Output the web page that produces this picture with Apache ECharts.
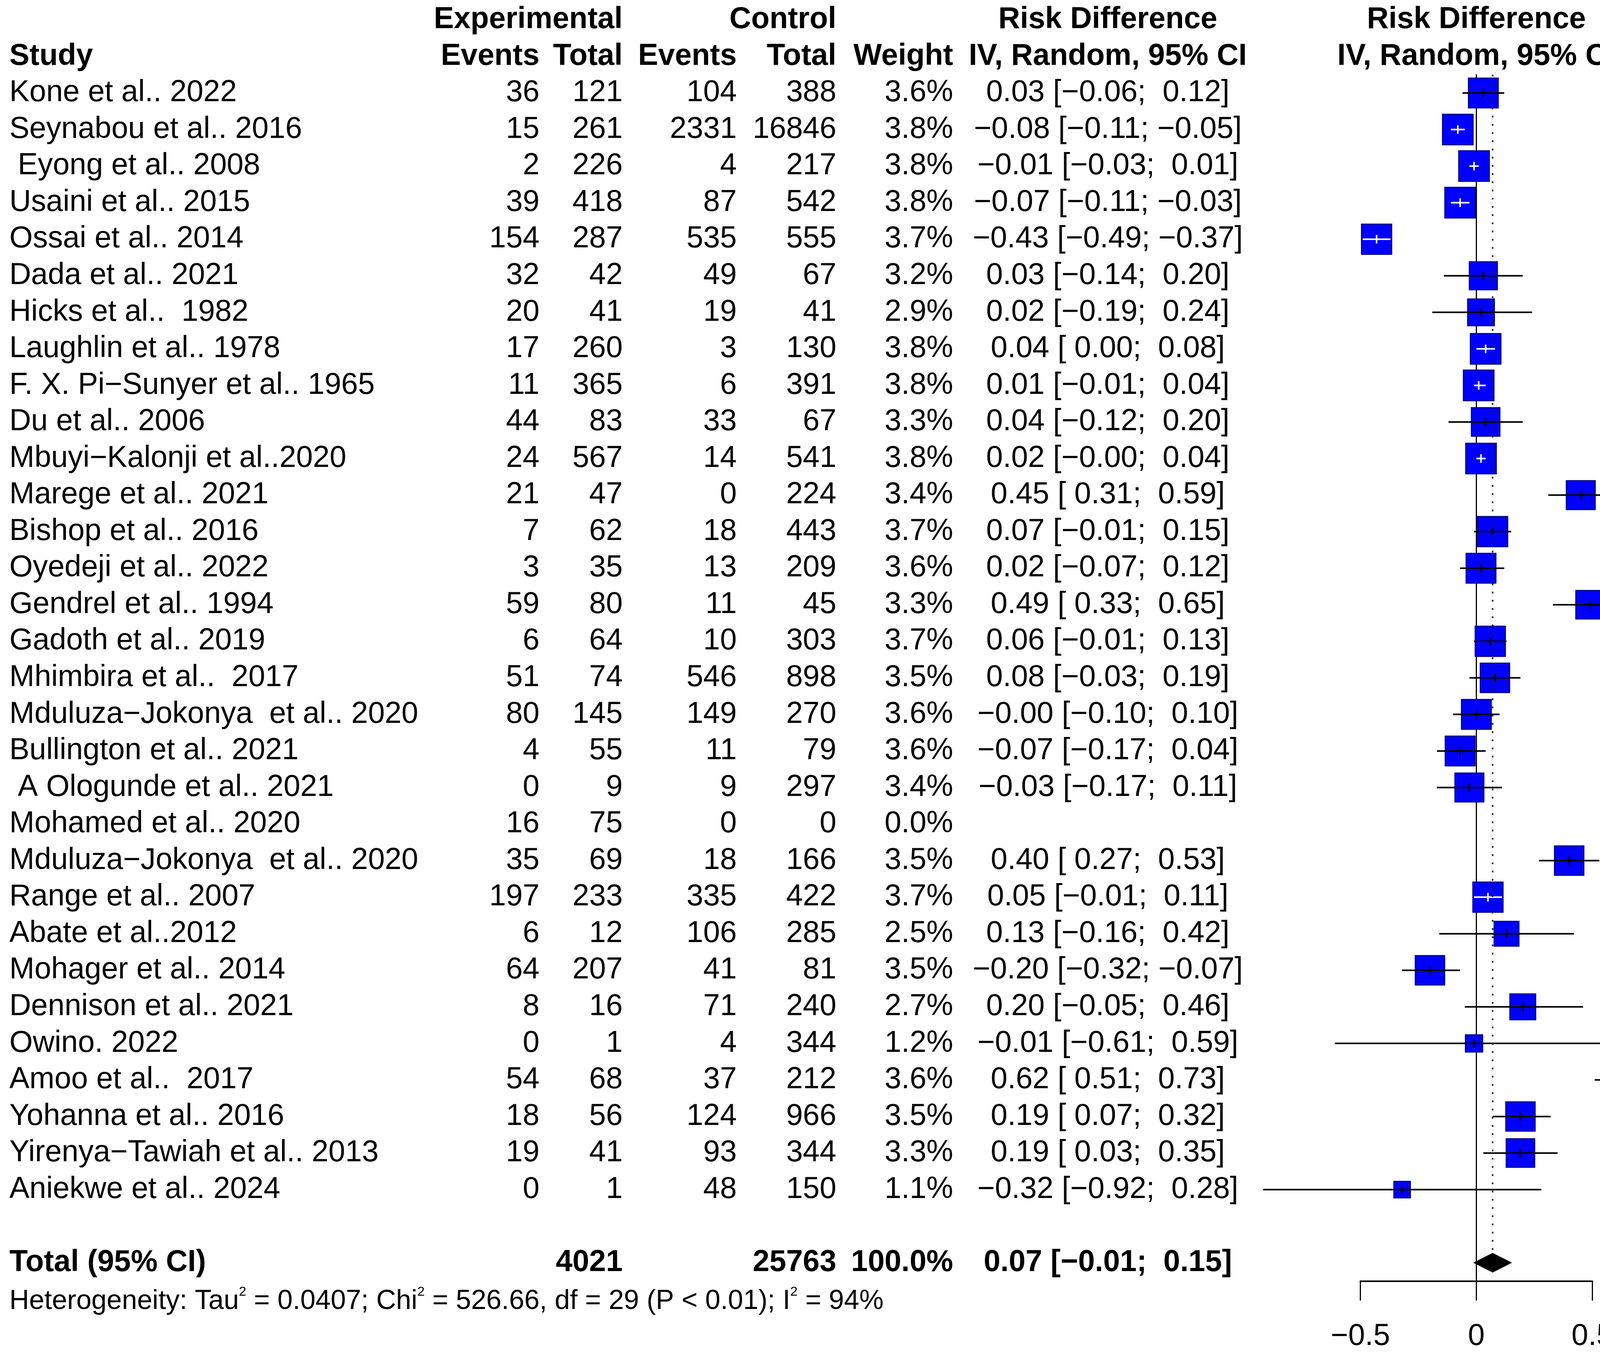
<!DOCTYPE html>
<html>
<head>
<meta charset="utf-8">
<title>Forest plot - Risk Difference</title>
<script src="https://cdn.jsdelivr.net/npm/echarts@6/dist/echarts.min.js"></script>
<style>
  html, body { margin: 0; padding: 0; background: #fff; }
  #forest { width: 4249px; height: 3478px; }
</style>
</head>
<body>
<div id="forest"></div>
<script>
// ---- data ----
const studies = [
  'Kone et al.. 2022', 'Seynabou et al.. 2016', ' Eyong et al.. 2008', 'Usaini et al.. 2015',
  'Ossai et al.. 2014', 'Dada et al.. 2021', 'Hicks et al..  1982', 'Laughlin et al.. 1978',
  'F. X. Pi\u2212Sunyer et al.. 1965', 'Du et al.. 2006', 'Mbuyi\u2212Kalonji et al..2020', 'Marege et al.. 2021',
  'Bishop et al.. 2016', 'Oyedeji et al.. 2022', 'Gendrel et al.. 1994', 'Gadoth et al.. 2019',
  'Mhimbira et al..  2017', 'Mduluza\u2212Jokonya  et al.. 2020', 'Bullington et al.. 2021', ' A Ologunde et al.. 2021',
  'Mohamed et al.. 2020', 'Mduluza\u2212Jokonya  et al.. 2020', 'Range et al.. 2007', 'Abate et al..2012',
  'Mohager et al.. 2014', 'Dennison et al.. 2021', 'Owino. 2022', 'Amoo et al..  2017',
  'Yohanna et al.. 2016', 'Yirenya\u2212Tawiah et al.. 2013', 'Aniekwe et al.. 2024'
];
const expEvents  = [36, 15, 2, 39, 154, 32, 20, 17, 11, 44, 24, 21, 7, 3, 59, 6, 51, 80, 4, 0, 16, 35, 197, 6, 64, 8, 0, 54, 18, 19, 0];
const expTotal   = [121, 261, 226, 418, 287, 42, 41, 260, 365, 83, 567, 47, 62, 35, 80, 64, 74, 145, 55, 9, 75, 69, 233, 12, 207, 16, 1, 68, 56, 41, 1];
const ctrlEvents = [104, 2331, 4, 87, 535, 49, 19, 3, 6, 33, 14, 0, 18, 13, 11, 10, 546, 149, 11, 9, 0, 18, 335, 106, 41, 71, 4, 37, 124, 93, 48];
const ctrlTotal  = [388, 16846, 217, 542, 555, 67, 41, 130, 391, 67, 541, 224, 443, 209, 45, 303, 898, 270, 79, 297, 0, 166, 422, 285, 81, 240, 344, 212, 966, 344, 150];
const weights    = [3.6, 3.8, 3.8, 3.8, 3.7, 3.2, 2.9, 3.8, 3.8, 3.3, 3.8, 3.4, 3.7, 3.6, 3.3, 3.7, 3.5, 3.6, 3.6, 3.4, 0.0, 3.5, 3.7, 2.5, 3.5, 2.7, 1.2, 3.6, 3.5, 3.3, 1.1];
const rdEst      = [0.03, -0.08, -0.01, -0.07, -0.43, 0.03, 0.02, 0.04, 0.01, 0.04, 0.02, 0.45, 0.07, 0.02, 0.49, 0.06, 0.08, -0, -0.07, -0.03, null, 0.40, 0.05, 0.13, -0.20, 0.20, -0.01, 0.62, 0.19, 0.19, -0.32];
const rdLower    = [-0.06, -0.11, -0.03, -0.11, -0.49, -0.14, -0.19, 0.00, -0.01, -0.12, -0, 0.31, -0.01, -0.07, 0.33, -0.01, -0.03, -0.10, -0.17, -0.17, null, 0.27, -0.01, -0.16, -0.32, -0.05, -0.61, 0.51, 0.07, 0.03, -0.92];
const rdUpper    = [0.12, -0.05, 0.01, -0.03, -0.37, 0.20, 0.24, 0.08, 0.04, 0.20, 0.04, 0.59, 0.15, 0.12, 0.65, 0.13, 0.19, 0.10, 0.04, 0.11, null, 0.53, 0.11, 0.42, -0.07, 0.46, 0.59, 0.73, 0.32, 0.35, 0.28];

const totalExp = 4021;
const totalCtrl = 25763;
const totalWeight = 100.0;
const pooled = [0.07, -0.01, 0.15];          // estimate, lower, upper
const heteroParts = ['0.0407', '526.66', '29', '< 0.01', '94%']; // Tau2, Chi2, df, P, I2
const xTicks = [-0.5, 0, 0.5];

// ---- layout ----
const FONT = '"Liberation Sans", Arial, Helvetica, sans-serif';
const FS = 77;
const HET_FS = 70, SUP_FS = 34;
const COL = { study: 24, expEv: 1381, expTot: 1594, ctrlEv: 1886, ctrlTot: 2141, weight: 2440, rd: 2836 };
const MINUS = '\u2212';

function isNeg(v) { return v < 0 || Object.is(v, -0); }
function num(v) { return isNeg(v) ? MINUS + Math.abs(v).toFixed(2) : v.toFixed(2); }
function pad(v) { return isNeg(v) ? num(v) : ' ' + num(v); }
function ciText(e, l, u) { return num(e) + ' [' + pad(l) + '; ' + pad(u) + ']'; }

function txt(text, x, y, align, bold, size) {
  return {
    type: 'text', x: x, y: y, silent: true,
    style: {
      text: text, fill: '#000', fontSize: size || FS, fontFamily: FONT,
      fontWeight: bold ? 'bold' : 'normal', align: align, verticalAlign: 'middle'
    }
  };
}

// measure text widths for the heterogeneity line (normal text + superscripts)
const measureCtx = document.createElement('canvas').getContext('2d');
function textWidth(s, size) {
  measureCtx.font = size + 'px ' + FONT;
  return measureCtx.measureText(s).width;
}

const chart = echarts.init(document.getElementById('forest'), null, { renderer: 'canvas', width: 4249, height: 3478 });

const markData = [];
for (let i = 0; i < studies.length; i++) {
  if (rdEst[i] !== null && weights[i] > 0) markData.push([rdEst[i], i, rdLower[i], rdUpper[i], weights[i]]);
}

const option = {
  animation: false,
  backgroundColor: '#fff',
  grid: { left: 3482.5, right: 172.5, top: 191.2, bottom: 199.6, containLabel: false },
  xAxis: {
    type: 'value', min: xTicks[0], max: xTicks[xTicks.length - 1], interval: 0.5,
    axisLine: { show: true, onZero: false, lineStyle: { color: '#000', width: 4 } },
    axisTick: { show: true, inside: false, length: 50, lineStyle: { color: '#000', width: 3 } },
    axisLabel: {
      show: true, margin: 104, color: '#000', fontSize: FS, fontFamily: FONT,
      formatter: v => (v < 0 ? MINUS + Math.abs(v) : String(v))
    },
    splitLine: { show: false }
  },
  yAxis: {
    type: 'value', min: -0.5, max: 32.5, inverse: true,
    axisLine: { show: true, onZero: true, lineStyle: { color: '#000', width: 3 } },
    axisTick: { show: false }, axisLabel: { show: false }, splitLine: { show: false }
  },
  series: [
    {
      // study table rows
      type: 'custom', name: 'table', clip: false, silent: true,
      data: studies.map((s, i) => [0, i]),
      encode: { x: 0, y: 1 },
      renderItem: (params, api) => {
        const i = params.dataIndex;
        const y = api.coord([0, api.value(1)])[1];
        const kids = [
          txt(studies[i], COL.study, y, 'left'),
          txt(String(expEvents[i]), COL.expEv, y, 'right'),
          txt(String(expTotal[i]), COL.expTot, y, 'right'),
          txt(String(ctrlEvents[i]), COL.ctrlEv, y, 'right'),
          txt(String(ctrlTotal[i]), COL.ctrlTot, y, 'right'),
          txt(weights[i].toFixed(1) + '%', COL.weight, y, 'right')
        ];
        if (rdEst[i] !== null) kids.push(txt(ciText(rdEst[i], rdLower[i], rdUpper[i]), COL.rd, y, 'center'));
        return { type: 'group', children: kids };
      }
    },
    {
      // headers, total row, heterogeneity
      type: 'custom', name: 'labels', clip: false, silent: true,
      data: [[0, -2]],
      encode: { x: 0, y: 1 },
      renderItem: (params, api) => {
        const y1 = api.coord([0, -2])[1];
        const y2 = api.coord([0, -1])[1];
        const yT = api.coord([0, 32])[1];
        const yH = api.coord([0, 33.06])[1];
        const xZero = api.coord([0, 0])[0];
        // heterogeneity line: [text, isSuperscript]
        const het = [
          ['Heterogeneity: Tau', false], ['2', true], [' = ' + heteroParts[0] + '; Chi', false], ['2', true],
          [' = ' + heteroParts[1] + ', df = ' + heteroParts[2] + ' (P ' + heteroParts[3] + '); I', false], ['2', true],
          [' = ' + heteroParts[4], false]
        ];
        const hetKids = [];
        let hx = COL.study;
        het.forEach(([s, sup]) => {
          const size = sup ? SUP_FS : HET_FS;
          hetKids.push(txt(s, hx, sup ? yH - 24 : yH, 'left', false, size));
          hx += textWidth(s, size);
        });
        return {
          type: 'group',
          children: [
            txt('Experimental', COL.expTot, y1, 'right', true),
            txt('Control', COL.ctrlTot, y1, 'right', true),
            txt('Risk Difference', COL.rd, y1, 'center', true),
            txt('Risk Difference', xZero, y1, 'center', true),
            txt('Study', COL.study, y2, 'left', true),
            txt('Events', COL.expEv, y2, 'right', true),
            txt('Total', COL.expTot, y2, 'right', true),
            txt('Events', COL.ctrlEv, y2, 'right', true),
            txt('Total', COL.ctrlTot, y2, 'right', true),
            txt('Weight', COL.weight, y2, 'right', true),
            txt('IV, Random, 95% CI', COL.rd, y2, 'center', true),
            txt('IV, Random, 95% CI', xZero, y2, 'center', true),
            txt('Total (95% CI)', COL.study, yT, 'left', true),
            txt(String(totalExp), COL.expTot, yT, 'right', true),
            txt(String(totalCtrl), COL.ctrlTot, yT, 'right', true),
            txt(totalWeight.toFixed(1) + '%', COL.weight, yT, 'right', true),
            txt(ciText(pooled[0], pooled[1], pooled[2]), COL.rd, yT, 'center', true)
          ].concat(hetKids)
        };
      }
    },
    {
      // squares and confidence intervals
      type: 'custom', name: 'studies', clip: false, silent: true,
      data: markData,
      encode: { x: [0, 2, 3], y: 1 },
      renderItem: (params, api) => {
        const est = api.value(0), row = api.value(1), lo = api.value(2), hi = api.value(3), w = api.value(4);
        const c = api.coord([est, row]);
        const pl = api.coord([lo, row]);
        const ph = api.coord([hi, row]);
        const rowH = Math.abs(api.size([0, 1])[1]);
        const side = rowH * 0.428 * Math.sqrt(w);
        const inside = (ph[0] - pl[0]) <= side;
        const lineCol = inside ? '#fff' : '#000';
        return {
          type: 'group',
          children: [
            { type: 'rect', shape: { x: c[0] - side / 2, y: c[1] - side / 2, width: side, height: side },
              style: { fill: '#0000ff', stroke: '#00008b', lineWidth: 3 } },
            { type: 'line', shape: { x1: pl[0], y1: c[1], x2: ph[0], y2: c[1] },
              style: { stroke: lineCol, lineWidth: 4 } },
            { type: 'line', shape: { x1: c[0], y1: c[1] - 11, x2: c[0], y2: c[1] + 11 },
              style: { stroke: lineCol, lineWidth: 4 } }
          ]
        };
      }
    },
    {
      // pooled diamond and its dotted reference line
      type: 'custom', name: 'pooled', clip: false, silent: true,
      data: [[pooled[0], 32, pooled[1], pooled[2]]],
      encode: { x: [0, 2, 3], y: 1 },
      renderItem: (params, api) => {
        const row = api.value(1);
        const c = api.coord([api.value(0), row]);
        const pl = api.coord([api.value(2), row]);
        const ph = api.coord([api.value(3), row]);
        const top = api.coord([api.value(0), -0.5]);
        const h = 24;
        return {
          type: 'group',
          children: [
            { type: 'line', shape: { x1: c[0], y1: top[1], x2: c[0], y2: c[1] - h },
              style: { stroke: '#222', lineWidth: 4, lineDash: [4.5, 16.5] } },
            { type: 'polygon', shape: { points: [[pl[0], c[1]], [c[0], c[1] - h], [ph[0], c[1]], [c[0], c[1] + h]] },
              style: { fill: '#000', stroke: '#000', lineWidth: 2 } }
          ]
        };
      }
    }
  ]
};

chart.setOption(option);
</script>
</body>
</html>
